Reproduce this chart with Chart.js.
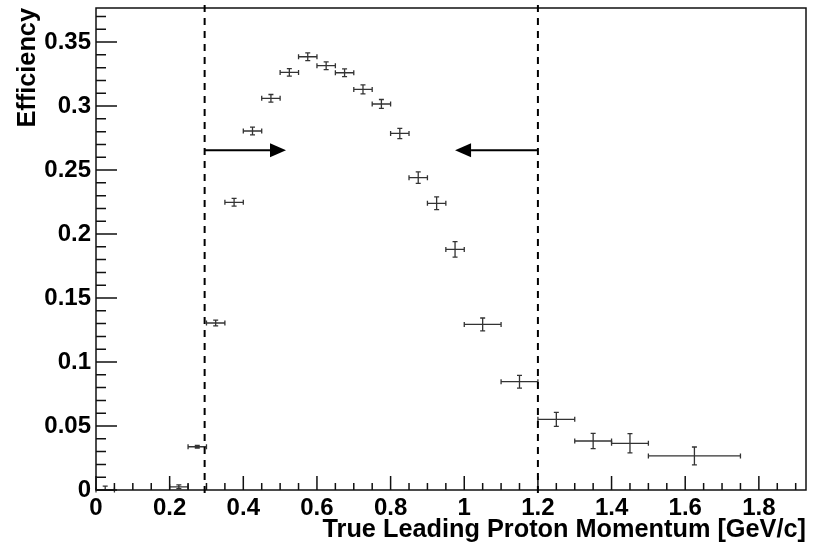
<!DOCTYPE html>
<html>
<head>
<meta charset="utf-8">
<script src="https://cdn.jsdelivr.net/npm/chart.js@4.4.1/dist/chart.umd.min.js"></script>
<style>
  html, body { margin: 0; padding: 0; background: #fff; }
</style>
</head>
<body>
<canvas id="efficiencyChart" width="817" height="545"></canvas>
<script>
// bins of true leading proton momentum [GeV/c]
const binLow  = [0.00, 0.20, 0.25, 0.30, 0.35, 0.40, 0.45, 0.50, 0.55, 0.60, 0.65, 0.70, 0.75, 0.80, 0.85, 0.90, 0.95, 1.00, 1.10, 1.20, 1.30, 1.40, 1.50];
const binHigh = [0.05, 0.25, 0.30, 0.35, 0.40, 0.45, 0.50, 0.55, 0.60, 0.65, 0.70, 0.75, 0.80, 0.85, 0.90, 0.95, 1.00, 1.10, 1.20, 1.30, 1.40, 1.50, 1.75];
const efficiency = [0.000, 0.0025, 0.0338, 0.1305, 0.2248, 0.2805, 0.306, 0.3263, 0.3385, 0.3315, 0.326, 0.313, 0.3016, 0.2786, 0.244, 0.224, 0.188, 0.1294, 0.0846, 0.0552, 0.0383, 0.0365, 0.0266];
const effError   = [0.003, 0.0015, 0.001, 0.0023, 0.003, 0.003, 0.003, 0.003, 0.003, 0.003, 0.003, 0.0035, 0.0035, 0.004, 0.0045, 0.005, 0.006, 0.005, 0.005, 0.0055, 0.006, 0.0075, 0.007];

const xTicks = [0, 0.2, 0.4, 0.6, 0.8, 1, 1.2, 1.4, 1.6, 1.8];
const yTicks = [0, 0.05, 0.1, 0.15, 0.2, 0.25, 0.3, 0.35];

// selection cuts drawn as dashed lines with arrows
const cutLow = 0.295;
const cutHigh = 1.2;
const arrowLevel = 0.2655;
const arrowTipLow = 0.516;
const arrowTipHigh = 0.975;

const xMax = 1.928;
const yMax = 0.3766;

const fontFamily = '"Liberation Sans", Arial, Helvetica, sans-serif';

// ROOT-like frame, inner ticks, error bars and cut markers
const rootStyle = {
    id: 'rootStyle',
    afterDatasetsDraw(chart) {
        const { ctx, chartArea: a, scales: { x, y } } = chart;
        ctx.save();

        // error bars
        ctx.strokeStyle = '#333';
        ctx.lineWidth = 1.3;
        const cap = 2.5;
        for (let i = 0; i < efficiency.length; i++) {
            const xl = x.getPixelForValue(binLow[i]);
            const xh = x.getPixelForValue(binHigh[i]);
            const xc = x.getPixelForValue((binLow[i] + binHigh[i]) / 2);
            const yc = y.getPixelForValue(efficiency[i]);
            const yl = y.getPixelForValue(Math.max(0, efficiency[i] - effError[i]));
            const yh = y.getPixelForValue(efficiency[i] + effError[i]);
            ctx.beginPath();
            ctx.moveTo(xl, yc); ctx.lineTo(xh, yc);
            ctx.moveTo(xl, yc - cap); ctx.lineTo(xl, yc + cap);
            ctx.moveTo(xh, yc - cap); ctx.lineTo(xh, yc + cap);
            ctx.moveTo(xc, yl); ctx.lineTo(xc, yh);
            ctx.moveTo(xc - cap, yh); ctx.lineTo(xc + cap, yh);
            if (efficiency[i] - effError[i] > 0) {
                ctx.moveTo(xc - cap, yl); ctx.lineTo(xc + cap, yl);
            }
            ctx.stroke();
        }

        // frame
        ctx.strokeStyle = '#111';
        ctx.lineWidth = 1.5;
        ctx.strokeRect(a.left, a.top, a.right - a.left, a.bottom - a.top);

        // ticks pointing inside
        ctx.beginPath();
        for (let k = 0; k * 0.05 <= xMax + 1e-9; k++) {
            const px = x.getPixelForValue(k * 0.05);
            ctx.moveTo(px, a.bottom);
            ctx.lineTo(px, a.bottom - (k % 4 === 0 ? 14 : 7));
        }
        for (let k = 0; k * 0.01 <= yMax + 1e-9; k++) {
            const py = y.getPixelForValue(k * 0.01);
            ctx.moveTo(a.left, py);
            ctx.lineTo(a.left + (k % 5 === 0 ? 21 : 10), py);
        }
        ctx.stroke();

        // dashed cut lines
        ctx.strokeStyle = '#000';
        ctx.lineWidth = 2;
        ctx.setLineDash([7, 6]);
        ctx.beginPath();
        [cutLow, cutHigh].forEach(c => {
            const px = x.getPixelForValue(c);
            ctx.moveTo(px, a.bottom + 3);
            ctx.lineTo(px, y.getPixelForValue(0.382));
        });
        ctx.stroke();
        ctx.setLineDash([]);

        // arrows
        const ay = y.getPixelForValue(arrowLevel);
        [[cutLow, arrowTipLow], [cutHigh, arrowTipHigh]].forEach(([from, to]) => {
            const x0 = x.getPixelForValue(from);
            const x1 = x.getPixelForValue(to);
            const dir = Math.sign(x1 - x0);
            const head = 16;
            ctx.beginPath();
            ctx.moveTo(x0, ay);
            ctx.lineTo(x1 - dir * head, ay);
            ctx.stroke();
            ctx.beginPath();
            ctx.moveTo(x1, ay);
            ctx.lineTo(x1 - dir * head, ay - 7);
            ctx.lineTo(x1 - dir * head, ay + 7);
            ctx.closePath();
            ctx.fillStyle = '#000';
            ctx.fill();
        });

        ctx.restore();
    }
};

const tickLabel = v => String(Math.round(v * 1000) / 1000);

const ctx = document.getElementById('efficiencyChart').getContext('2d');
const efficiencyChart = new Chart(ctx, {
    type: 'scatter',
    data: {
        datasets: [{
            label: 'Efficiency',
            data: efficiency.map((v, i) => ({ x: (binLow[i] + binHigh[i]) / 2, y: v })),
            pointRadius: 0,
            showLine: false
        }]
    },
    options: {
        responsive: false,
        animation: false,
        devicePixelRatio: 1,
        layout: {
            padding: { top: 8, right: 11, left: 0, bottom: 0 }
        },
        plugins: {
            legend: { display: false },
            tooltip: { enabled: false }
        },
        scales: {
            x: {
                type: 'linear',
                min: 0,
                max: xMax,
                afterBuildTicks: scale => { scale.ticks = xTicks.map(v => ({ value: v })); },
                afterFit: scale => {
                    scale.height = 55;
                    scale.paddingLeft = 0;
                    scale.paddingRight = 0;
                },
                grid: { display: false, drawTicks: false },
                border: { display: false },
                ticks: {
                    color: '#000',
                    padding: 4,
                    maxRotation: 0,
                    autoSkip: false,
                    callback: tickLabel,
                    font: { family: fontFamily, size: 24, weight: 'bold' }
                },
                title: {
                    display: true,
                    text: 'True Leading Proton Momentum [GeV/c]',
                    align: 'end',
                    color: '#000',
                    padding: 0,
                    font: { family: fontFamily, size: 25.3, weight: 'bold' }
                }
            },
            y: {
                type: 'linear',
                min: 0,
                max: yMax,
                afterBuildTicks: scale => { scale.ticks = yTicks.map(v => ({ value: v })); },
                afterFit: scale => {
                    scale.width = 96;
                    scale.paddingTop = 0;
                    scale.paddingBottom = 0;
                },
                grid: { display: false, drawTicks: false },
                border: { display: false },
                ticks: {
                    color: '#000',
                    padding: 5,
                    callback: tickLabel,
                    font: { family: fontFamily, size: 24, weight: 'bold' }
                },
                title: {
                    display: true,
                    text: 'Efficiency',
                    align: 'end',
                    color: '#000',
                    padding: { top: 13, bottom: 0 },
                    font: { family: fontFamily, size: 25.3, weight: 'bold' }
                }
            }
        }
    },
    plugins: [rootStyle]
});
</script>
</body>
</html>
